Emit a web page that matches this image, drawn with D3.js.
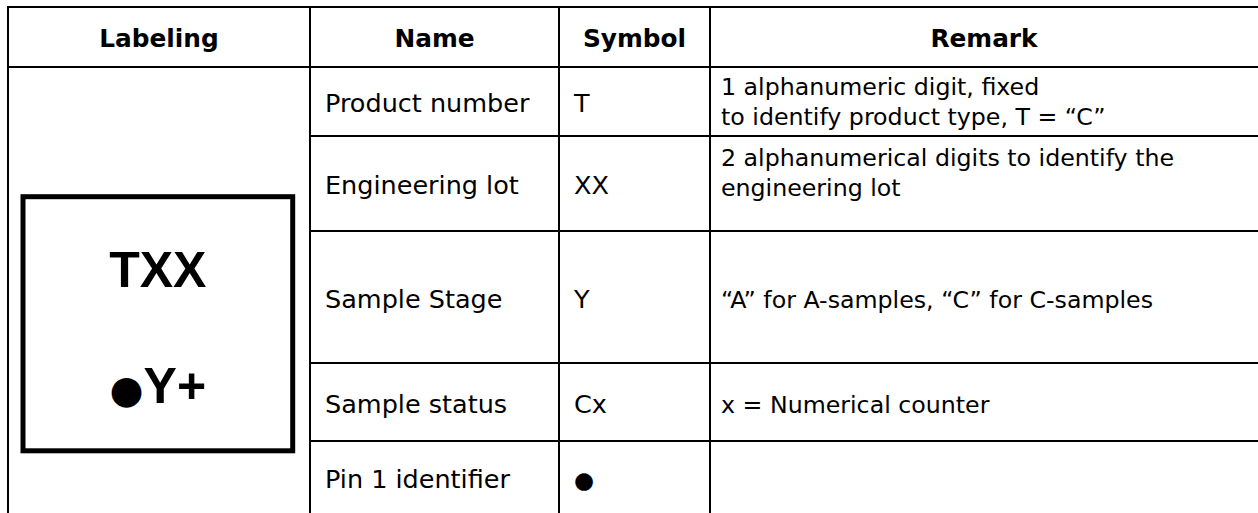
<!DOCTYPE html>
<html>
<head>
<meta charset="utf-8">
<script src="https://cdn.jsdelivr.net/npm/d3@7/dist/d3.min.js"></script>
<style>
  html, body { margin: 0; padding: 0; background: #fff; }
  svg { display: block; }
</style>
</head>
<body>
<svg id="chart" width="1258" height="513"></svg>
<script>
// ---------- data ----------
const headers = ["Labeling", "Name", "Symbol", "Remark"];
const names = ["Product number", "Engineering lot", "Sample Stage", "Sample status", "Pin 1 identifier"];
const symbols = ["T", "XX", "Y", "Cx", "\u25CF"];
const remarks = [
  ["1 alphanumeric digit, fixed", "to identify product type, T = \u201CC\u201D"],
  ["2 alphanumerical digits to identify the", "engineering lot"],
  ["\u201CA\u201D for A-samples, \u201CC\u201D for C-samples"],
  ["x = Numerical counter"],
  []
];
const labelTop = "TXX";
const labelBottom = ["\u25CF", "Y+"];

// ---------- layout ----------
const W = 1258, H = 513;
const colEdges = [8, 310, 559, 710, W];
const rowEdges = [7, 67, 136, 231, 363, 441, 513];   // header + 5 body rows
const remarkTopAlign = [false, true, false, false, false];

const svg = d3.select("#chart");
const colX = d3.scaleOrdinal().domain(d3.range(4)).range(colEdges.slice(0, 4));
const colW = i => colEdges[i + 1] - colEdges[i];
const rowY = d3.scaleOrdinal().domain(d3.range(6)).range(rowEdges.slice(0, 6));
const rowH = i => rowEdges[i + 1] - rowEdges[i];

const bodyFont = "'DejaVu Sans', sans-serif";
const lineW = 2;

// ---------- grid lines ----------
const g = svg.append("g").attr("stroke", "#000").attr("stroke-width", lineW);
[rowEdges[0], rowEdges[1]].forEach(y =>
  g.append("line").attr("x1", colEdges[0] - 1).attr("x2", W).attr("y1", y).attr("y2", y));
g.selectAll(".rowline").data(rowEdges.slice(2, 6)).enter().append("line")
  .attr("x1", colEdges[1]).attr("x2", W).attr("y1", d => d).attr("y2", d => d);
g.selectAll(".colline").data(colEdges.slice(0, 4)).enter().append("line")
  .attr("x1", d => d).attr("x2", d => d).attr("y1", rowEdges[0] - 1).attr("y2", H + 5);

// ---------- header ----------
svg.selectAll(".hdr").data(headers).enter().append("text")
  .attr("x", (d, i) => colX(i) + colW(i) / 2)
  .attr("y", rowY(0) + rowH(0) / 2 + 9.5)
  .attr("text-anchor", "middle")
  .attr("font-family", bodyFont)
  .attr("font-weight", "bold")
  .attr("font-size", 24.8)
  .attr("fill", "#000")
  .text(d => d);

// ---------- body ----------
const baseOff = 10.5;
svg.selectAll(".name").data(names).enter().append("text")
  .attr("x", colX(1) + 15)
  .attr("y", (d, i) => rowY(i + 1) + rowH(i + 1) / 2 + baseOff)
  .attr("font-family", bodyFont).attr("font-size", 25.5).attr("fill", "#000")
  .text(d => d);

svg.selectAll(".sym").data(symbols).enter().append("text")
  .attr("x", colX(2) + 15)
  .attr("y", (d, i) => rowY(i + 1) + rowH(i + 1) / 2 + baseOff)
  .attr("font-family", bodyFont)
  .attr("font-size", d => d === "\u25CF" ? 23 : 25.5)
  .attr("fill", "#000")
  .text(d => d);

const lineGap = 30;
remarks.forEach((lines, i) => {
  const n = lines.length;
  if (!n) return;
  let first;
  if (remarkTopAlign[i]) first = rowY(i + 1) + 30;
  else first = rowY(i + 1) + rowH(i + 1) / 2 + baseOff - (n - 1) * lineGap / 2 - (n > 1 ? 1.7 : 0);
  svg.append("text")
    .attr("font-family", bodyFont).attr("font-size", 23.7).attr("fill", "#000")
    .selectAll("tspan").data(lines).enter().append("tspan")
    .attr("x", colX(3) + 11)
    .attr("y", (d, j) => first + j * lineGap)
    .text(d => d);
});

// ---------- labeling marking box ----------
const boxL = 23, boxR = 292.7, boxT = 196.7, boxB = 450.8;
svg.append("rect")
  .attr("x", boxL).attr("y", boxT)
  .attr("width", boxR - boxL).attr("height", boxB - boxT)
  .attr("fill", "none").attr("stroke", "#000").attr("stroke-width", 5);

const cx = (boxL + boxR) / 2;
svg.append("text")
  .attr("x", cx).attr("y", 286.5)
  .attr("text-anchor", "middle")
  .attr("font-family", "'Liberation Sans', Arial, sans-serif")
  .attr("font-weight", "bold").attr("font-size", 50).attr("fill", "#000")
  .text(labelTop);

const t2 = svg.append("text")
  .attr("x", cx).attr("y", 403)
  .attr("text-anchor", "middle")
  .attr("font-family", "'Liberation Sans', Arial, sans-serif")
  .attr("font-weight", "bold").attr("font-size", 50).attr("fill", "#000");
t2.append("tspan").attr("font-family", bodyFont).attr("font-weight", "normal").attr("font-size", 39).text(labelBottom[0]);
t2.append("tspan").text(labelBottom[1]);
</script>
</body>
</html>
